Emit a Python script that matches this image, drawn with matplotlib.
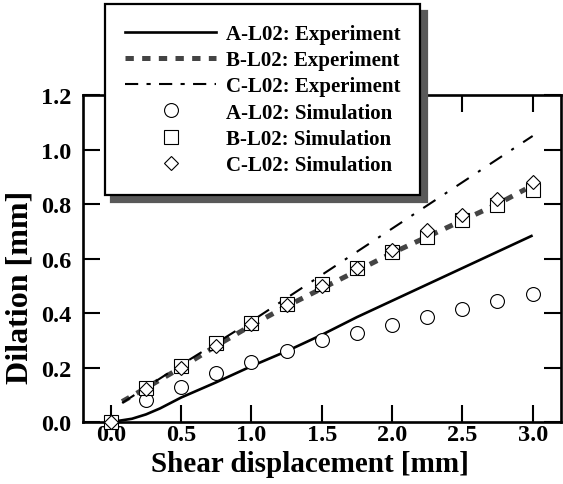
import matplotlib
matplotlib.use("Agg")
import matplotlib.pyplot as plt
from matplotlib.lines import Line2D
from matplotlib.ticker import FixedLocator, FixedFormatter

plt.rcParams['font.family'] = ['Liberation Serif', 'DejaVu Serif']
plt.rcParams['font.weight'] = 'bold'
plt.rcParams['lines.scale_dashes'] = False

# Simulation results (shear displacement in mm, dilation in mm)
sim_x = [0.0, 0.25, 0.5, 0.75, 1.0, 1.25, 1.5, 1.75, 2.0, 2.25, 2.5, 2.75, 3.0]
a_sim = [0.0, 0.08, 0.13, 0.18, 0.22, 0.26, 0.30, 0.325, 0.355, 0.385, 0.415, 0.445, 0.47]
b_sim = [0.0, 0.125, 0.205, 0.29, 0.365, 0.435, 0.505, 0.565, 0.625, 0.68, 0.74, 0.795, 0.85]
c_sim = [0.0, 0.12, 0.20, 0.28, 0.36, 0.43, 0.50, 0.565, 0.63, 0.705, 0.76, 0.82, 0.88]

# Experimental curves
a_exp_x = [0.0, 0.15, 0.25, 0.35, 0.5, 0.75, 1.0, 1.25, 1.5, 1.75, 2.0, 2.5, 3.0]
a_exp_y = [0.0, 0.012, 0.028, 0.05, 0.09, 0.146, 0.205, 0.26, 0.32, 0.385, 0.445, 0.565, 0.685]
b_exp_x = [0.08, 0.25, 0.5, 0.75, 1.0, 1.25, 1.5, 1.75, 2.0, 2.25, 2.5, 2.75, 2.95]
b_exp_y = [0.075, 0.125, 0.2, 0.28, 0.355, 0.425, 0.49, 0.555, 0.62, 0.68, 0.74, 0.80, 0.855]
c_exp_x = [0.08, 0.5, 1.0, 1.5, 2.0, 2.5, 3.0]
c_exp_y = [0.07, 0.21, 0.37, 0.54, 0.71, 0.88, 1.05]

series_labels = ["A-L02: Experiment", "B-L02: Experiment", "C-L02: Experiment",
                 "A-L02: Simulation", "B-L02: Simulation", "C-L02: Simulation"]

x_ticks = [0.0, 0.5, 1.0, 1.5, 2.0, 2.5, 3.0]
x_tick_labels = ["0.0", "0.5", "1.0", "1.5", "2.0", "2.5", "3.0"]
y_ticks = [0.0, 0.2, 0.4, 0.6, 0.8, 1.0, 1.2]
y_tick_labels = ["0.0", "0.2", "0.4", "0.6", "0.8", "1.0", "1.2"]

fig = plt.figure(figsize=(5.63, 4.85), dpi=100)
ax = fig.add_axes([0.147, 0.1278, 0.849, 0.674])

b_color = '#444444'
b_dash = (0, (6.0, 6.0))
c_dash = (0, (10.5, 8.0, 2.2, 8.0))

ax.plot(a_exp_x, a_exp_y, color='black', lw=1.9, solid_capstyle='butt', zorder=2)
ax.plot(b_exp_x, b_exp_y, color=b_color, lw=3.6, linestyle=b_dash,
        dash_capstyle='butt', zorder=2)
ax.plot(c_exp_x, c_exp_y, color='black', lw=1.5, linestyle=c_dash, zorder=2)

mk = dict(linestyle='none', markerfacecolor='white', markeredgecolor='black',
          markeredgewidth=0.8)
ax.plot(sim_x, a_sim, marker='o', markersize=10, zorder=3, clip_on=False, **mk)
ax.plot(sim_x, b_sim, marker='s', markersize=10.5, zorder=4, clip_on=False, **mk)
ax.plot(sim_x, c_sim, marker='D', markersize=7.3, zorder=5, clip_on=False, **mk)

ax.set_xlim(-0.2, 3.2)
ax.set_ylim(0.0, 1.2)
ax.xaxis.set_major_locator(FixedLocator(x_ticks))
ax.xaxis.set_major_formatter(FixedFormatter(x_tick_labels))
ax.yaxis.set_major_locator(FixedLocator(y_ticks))
ax.yaxis.set_major_formatter(FixedFormatter(y_tick_labels))

ax.tick_params(direction='in', length=12, width=1.5, top=True, right=True,
               labelsize=17.5, colors='black')
ax.tick_params(axis='x', pad=1.5)
ax.tick_params(axis='y', pad=8)
for s in ax.spines.values():
    s.set_linewidth(1.9)

ax.set_xlabel("Shear displacement [mm]", fontsize=21, fontweight='bold')
ax.set_ylabel("Dilation [mm]", fontsize=23, fontweight='bold')
ax.xaxis.set_label_coords(0.475, -0.085)
ax.yaxis.set_label_coords(-0.1, 0.416)

handles = [
    Line2D([], [], color='black', lw=1.9),
    Line2D([], [], color=b_color, lw=3.6, linestyle=b_dash, dash_capstyle='butt'),
    Line2D([], [], color='black', lw=1.5, linestyle=(9.0, (3.0, 6.0, 9.5, 6.0))),
    Line2D([], [], marker='o', markersize=10, **mk),
    Line2D([], [], marker='s', markersize=10.5, **mk),
    Line2D([], [], marker='D', markersize=7.3, **mk),
]
leg = ax.legend(handles, series_labels, loc='upper left',
                bbox_to_anchor=(105 / 563, 1 - 5 / 485), bbox_transform=fig.transFigure,
                borderaxespad=0, frameon=True, fancybox=False, framealpha=1,
                edgecolor='black',
                shadow={'ox': 4.5, 'oy': -5, 'color': '0.35', 'alpha': 1},
                prop={'family': 'Liberation Serif', 'weight': 'bold', 'size': 15},
                handlelength=4.4, handletextpad=0.45, labelspacing=0.3,
                borderpad=0.95, numpoints=1)
leg.get_frame().set_linewidth(1.6)
leg.set_zorder(10)

fig.savefig("out.png", dpi=100)
